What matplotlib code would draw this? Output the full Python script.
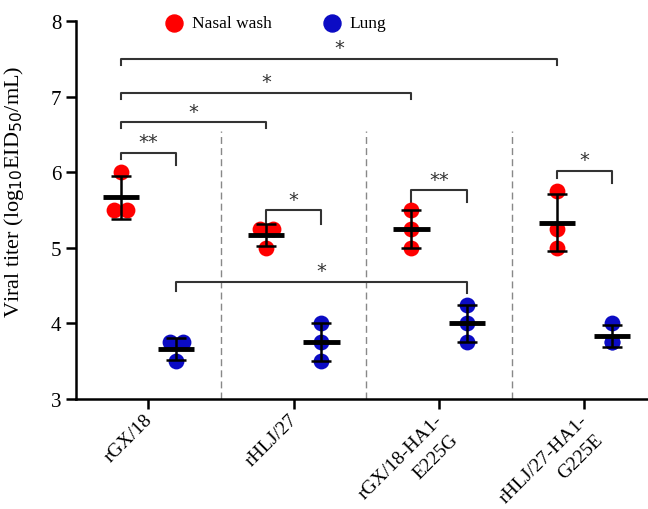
import numpy as np
import matplotlib.pyplot as plt
import matplotlib.transforms as mtransforms

plt.rcParams['font.family'] = ['Liberation Serif', 'DejaVu Serif']

groups = ["rGX/18", "rHLJ/27", "rGX/18-HA1-\nE225G", "rHLJ/27-HA1-\nG225E"]
nasal = [[6.0, 5.5, 5.5], [5.25, 5.25, 5.0], [5.5, 5.25, 5.0], [5.75, 5.25, 5.0]]
lung = [[3.75, 3.75, 3.5], [4.0, 3.75, 3.5], [4.25, 4.0, 3.75], [4.0, 3.75, 3.75]]
# point jitter within each group (same order as values)
nasal_jit = [[0, -1, 1], [-1, 1, 0], [0, 0, 0], [0, 0, 0]]
lung_jit = [[-1, 1, 0], [0, 0, 0], [0, 0, 0], [0, 0, 0]]

# significance brackets: (x1, x2, y, left drop, right drop, label)
brackets = [
    (-0.19, 2.81, 7.5, 7.42, 7.42, "*"),
    (-0.19, 1.81, 7.05, 6.97, 6.97, "*"),
    (-0.19, 0.81, 6.66, 6.58, 6.58, "*"),
    (-0.19, 0.19, 6.26, 6.18, 6.1, "**"),
    (0.81, 1.19, 5.5, 5.32, 5.32, "*"),
    (1.81, 2.19, 5.76, 5.6, 5.6, "**"),
    (2.81, 3.19, 6.02, 5.92, 5.86, "*"),
    (0.19, 2.19, 4.55, 4.43, 4.4, "*"),
]

off = 0.19
red = "#ff0000"
blue = "#0b0bc4"

fig = plt.figure(figsize=(6.48, 5.10), dpi=100)
ax = fig.add_axes([0.117, 0.2157, 0.888, 0.741])

for i in range(len(groups)):
    for vals, jit, dx, col in [(nasal[i], nasal_jit[i], -off, red), (lung[i], lung_jit[i], off, blue)]:
        x = i + dx
        xs = [x + j * 0.045 for j in jit]
        ax.scatter(xs, vals, s=130, color=col, zorder=2, linewidths=0)
        m = np.mean(vals)
        sd = np.std(vals, ddof=1)
        ax.plot([x - 0.125, x + 0.125], [m, m], color="black", lw=3.5, zorder=3, solid_capstyle="butt")
        ax.errorbar(x, m, yerr=sd, color="black", lw=1.8, capsize=7, capthick=1.8, zorder=3)

for b in [0.5, 1.5, 2.5]:
    ax.plot([b, b], [3, 6.55], color="#888888", lw=1, ls=(0, (5, 3)), zorder=1)

for x1, x2, y, d1, d2, lab in brackets:
    ax.plot([x1, x1, x2, x2], [d1, y, y, d2], color="#333333", lw=1.5, zorder=1)
    ax.text((x1 + x2) / 2, y + 0.02, lab, ha="center", va="bottom", fontsize=14, color="#333333",
            family="DejaVu Sans")

ax.scatter([], [], s=150, color=red, label="Nasal wash")
ax.scatter([], [], s=150, color=blue, label="Lung")
ax.legend(loc="center", bbox_to_anchor=(0.348, 0.994), ncol=2, frameon=False, fontsize=12.5,
          handlelength=1.0, handletextpad=0.5, columnspacing=3.0)

ax.set_xlim(-0.5, 3.46)
ax.set_ylim(3, 8)
ax.set_yticks([3, 4, 5, 6, 7, 8])
ax.set_xticks(range(len(groups)))
ax.set_xticklabels([])

# rotated category labels, one text per line so the wrapped ones keep their shape
base = ax.get_xaxis_transform()
for i, name in enumerate(groups):
    for k, line in enumerate(name.split("\n")):
        tr = base + mtransforms.ScaledTranslation((-5 + 15 * k) / 100, (-12 - 20 * k) / 100,
                                                  fig.dpi_scale_trans)
        ax.text(i, 0, line, transform=tr, rotation=45, ha="right", va="top",
                rotation_mode="anchor", fontsize=14)

ax.tick_params(axis="y", labelsize=15, width=1.8, length=7)
ax.tick_params(axis="x", width=1.8, length=7)
ax.spines["top"].set_visible(False)
ax.spines["right"].set_visible(False)
ax.spines["left"].set_linewidth(1.8)
ax.spines["bottom"].set_linewidth(1.8)
ax.set_ylabel("Viral titer (log$_{10}$EID$_{50}$/mL)", fontsize=16)
ax.yaxis.set_label_coords(-0.087, 0.55)

fig.savefig("out.png", dpi=100)
